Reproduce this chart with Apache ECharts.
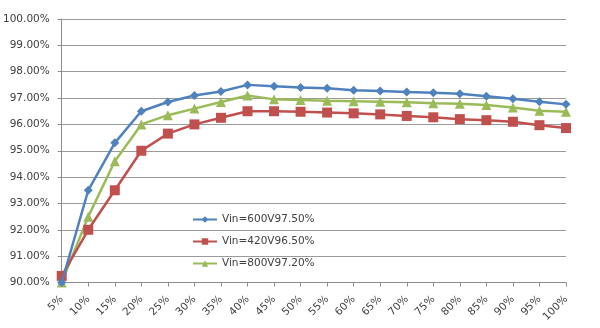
<!DOCTYPE html>
<html>
<head>
<meta charset="utf-8">
<script src="https://cdn.jsdelivr.net/npm/echarts@6/dist/echarts.min.js"></script>
<style>html,body{margin:0;padding:0;background:#fff}#c{width:600px;height:328px}</style>
</head>
<body>
<div id="c"></div>
<script>
var categories = ['5%','10%','15%','20%','25%','30%','35%','40%','45%','50%','55%','60%','65%','70%','75%','80%','85%','90%','95%','100%'];
var seriesNames = ['Vin=600V97.50%','Vin=420V96.50%','Vin=800V97.20%'];
var vin600 = [90.0,93.5,95.3,96.5,96.85,97.1,97.25,97.5,97.45,97.4,97.37,97.3,97.27,97.23,97.2,97.16,97.07,96.97,96.86,96.76];
var vin420 = [90.25,92.0,93.5,95.0,95.65,96.0,96.25,96.5,96.5,96.48,96.45,96.42,96.38,96.32,96.27,96.2,96.16,96.1,95.97,95.86];
var vin800 = [90.0,92.5,94.6,96.0,96.35,96.6,96.85,97.1,96.95,96.93,96.9,96.88,96.86,96.84,96.8,96.78,96.74,96.64,96.52,96.48];
var yTicks = {min: 90, max: 100, interval: 1};

var colors = ['#4F81BD','#C0504D','#9BBB59'];
var symbols = ['diamond','rect','triangle'];
var sizes = [9,10,10];
var datas = [vin600, vin420, vin800];

var chart = echarts.init(document.getElementById('c'), null, {renderer:'canvas'});
chart.setOption({
  animation: false,
  backgroundColor: '#fff',
  grid: {left: 60, right: 34, top: 19, bottom: 45.5, containLabel: false},
  legend: {
    orient: 'vertical', left: 187, top: 209, itemGap: 11,
    itemWidth: 24, itemHeight: 8,
    textStyle: {fontSize: 10.5, color: '#404040', fontFamily: 'DejaVu Sans'},
    data: seriesNames
  },
  xAxis: {
    type: 'category', data: categories, boundaryGap: false,
    axisLine: {lineStyle: {color: '#8c8c8c', width: 1}},
    axisTick: {show: true, alignWithLabel: true, length: 4, lineStyle: {color: '#8c8c8c'}},
    axisLabel: {rotate: 45, fontSize: 10.5, color: '#404040', fontFamily: 'DejaVu Sans', margin: 15, interval: 0},
    splitLine: {show: false}
  },
  yAxis: {
    type: 'value', min: yTicks.min, max: yTicks.max, interval: yTicks.interval,
    axisLine: {show: true, lineStyle: {color: '#8c8c8c', width: 1}},
    axisTick: {show: true, length: 4, lineStyle: {color: '#8c8c8c'}},
    axisLabel: {fontSize: 10.5, color: '#404040', fontFamily: 'DejaVu Sans', margin: 12,
      formatter: function(v){ return v.toFixed(2) + '%'; }},
    splitLine: {show: true, lineStyle: {color: '#9a9a9a', width: 1}}
  },
  series: seriesNames.map(function(n, i){
    return {
      name: n, type: 'line', data: datas[i],
      symbol: symbols[i], symbolSize: sizes[i], showSymbol: true,
      itemStyle: {color: colors[i]},
      lineStyle: {color: colors[i], width: 2.5},
      z: 3 - i
    };
  })
});
</script>
</body>
</html>
